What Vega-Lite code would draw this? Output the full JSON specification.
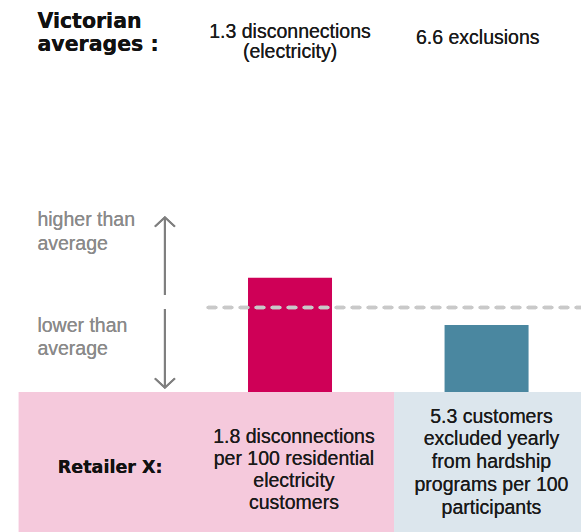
{
  "$schema": "https://vega.github.io/schema/vega-lite/v6.json",
  "width": 581,
  "height": 532,
  "autosize": "none",
  "padding": 0,
  "background": "white",
  "config": {
    "view": {"stroke": null},
    "axis": {"disable": true},
    "text": {"font": "Liberation Sans", "fontSize": 19.5, "color": "#1a1a1a", "baseline": "middle"}
  },
  "data": {
    "values": [
      {"metric": "Disconnections (electricity)", "column": 1, "retailer_x": 1.8, "victorian_average": 1.3, "relative_to_average": 1.353},
      {"metric": "Exclusions from hardship programs", "column": 2, "retailer_x": 5.3, "victorian_average": 6.6, "relative_to_average": 0.793}
    ]
  },
  "layer": [
    {
      "mark": {"type": "rect", "color": "#f5c9dc"},
      "encoding": {
        "x": {"datum": -0.38, "type": "quantitative", "scale": {"domain": [-0.45, 2.455], "nice": false, "zero": false}, "axis": null},
        "x2": {"datum": 1.53},
        "y": {"datum": -1.657, "type": "quantitative", "scale": {"domain": [-1.657, 4.639], "nice": false, "zero": false}, "axis": null},
        "y2": {"datum": 0}
      }
    },
    {
      "mark": {"type": "rect", "color": "#dce6ed"},
      "encoding": {
        "x": {"datum": 1.53, "type": "quantitative"},
        "x2": {"datum": 2.5},
        "y": {"datum": -1.7, "type": "quantitative"},
        "y2": {"datum": 0}
      }
    },
    {
      "mark": {"type": "bar", "width": 84},
      "encoding": {
        "x": {"field": "column", "type": "quantitative"},
        "y": {"field": "relative_to_average", "type": "quantitative"},
        "y2": {"datum": 0},
        "color": {"field": "metric", "type": "nominal", "scale": {"range": ["#cf0057", "#4a87a0"]}, "legend": null}
      }
    },
    {
      "mark": {"type": "rule", "color": "#c9c9c9", "strokeWidth": 3.5, "strokeDash": [7.5, 8.5], "strokeCap": "round"},
      "encoding": {
        "x": {"datum": 0.584, "type": "quantitative"},
        "x2": {"datum": 2.5},
        "y": {"datum": 1, "type": "quantitative"}
      }
    },
    {
      "mark": {"type": "rule", "color": "#7f7f7f", "strokeWidth": 2},
      "encoding": {
        "x": {"datum": 0.3635, "type": "quantitative"},
        "y": {"datum": 2.067, "type": "quantitative"},
        "y2": {"datum": 1.148}
      }
    },
    {
      "mark": {"type": "rule", "color": "#7f7f7f", "strokeWidth": 2},
      "encoding": {
        "x": {"datum": 0.3635, "type": "quantitative"},
        "y": {"datum": 0.982, "type": "quantitative"},
        "y2": {"datum": 0.051}
      }
    },
    {
      "mark": {"type": "point", "shape": "M-1,0.93L0,0L1,0.93", "filled": false, "stroke": "#7f7f7f", "strokeWidth": 2, "size": 400, "opacity": 1},
      "encoding": {
        "x": {"datum": 0.3635, "type": "quantitative"},
        "y": {"datum": 2.067, "type": "quantitative"}
      }
    },
    {
      "mark": {"type": "point", "shape": "M-1,-0.93L0,0L1,-0.93", "filled": false, "stroke": "#7f7f7f", "strokeWidth": 2, "size": 400, "opacity": 1},
      "encoding": {
        "x": {"datum": 0.3635, "type": "quantitative"},
        "y": {"datum": 0.051, "type": "quantitative"}
      }
    },
    {
      "mark": {"type": "text", "font": "DejaVu Sans", "fontWeight": "bold", "fontSize": 20.5, "align": "left", "lineHeight": 23.5, "color": "#111111"},
      "encoding": {
        "x": {"datum": -0.285, "type": "quantitative"},
        "y": {"datum": 4.382, "type": "quantitative"},
        "text": {"value": ["Victorian", "averages :"]}
      }
    },
    {
      "mark": {"type": "text", "align": "center", "lineHeight": 20.5},
      "encoding": {
        "x": {"datum": 1.0, "type": "quantitative"},
        "y": {"datum": 4.264, "type": "quantitative"},
        "text": {"value": ["1.3 disconnections", "(electricity)"]}
      }
    },
    {
      "mark": {"type": "text", "align": "center"},
      "encoding": {
        "x": {"datum": 1.955, "type": "quantitative"},
        "y": {"datum": 4.193, "type": "quantitative"},
        "text": {"value": "6.6 exclusions"}
      }
    },
    {
      "mark": {"type": "text", "align": "left", "lineHeight": 24, "color": "#8a8a8a"},
      "encoding": {
        "x": {"datum": -0.285, "type": "quantitative"},
        "y": {"datum": 2.036, "type": "quantitative"},
        "text": {"value": ["higher than", "average"]}
      }
    },
    {
      "mark": {"type": "text", "align": "left", "lineHeight": 23, "color": "#8a8a8a"},
      "encoding": {
        "x": {"datum": -0.285, "type": "quantitative"},
        "y": {"datum": 0.781, "type": "quantitative"},
        "text": {"value": ["lower than", "average"]}
      }
    },
    {
      "mark": {"type": "text", "font": "DejaVu Sans", "fontWeight": "bold", "fontSize": 17.5, "align": "center", "color": "#111111"},
      "encoding": {
        "x": {"datum": 0.085, "type": "quantitative"},
        "y": {"datum": -0.896, "type": "quantitative"},
        "text": {"value": "Retailer X:"}
      }
    },
    {
      "mark": {"type": "text", "align": "center", "lineHeight": 22.1},
      "encoding": {
        "x": {"datum": 1.02, "type": "quantitative"},
        "y": {"datum": -0.529, "type": "quantitative"},
        "text": {"value": ["1.8 disconnections", "per 100 residential", "electricity", "customers"]}
      }
    },
    {
      "mark": {"type": "text", "align": "center", "lineHeight": 22.8},
      "encoding": {
        "x": {"datum": 2.025, "type": "quantitative"},
        "y": {"datum": -0.292, "type": "quantitative"},
        "text": {"value": ["5.3 customers", "excluded yearly", "from hardship", "programs per 100", "participants"]}
      }
    }
  ]
}
